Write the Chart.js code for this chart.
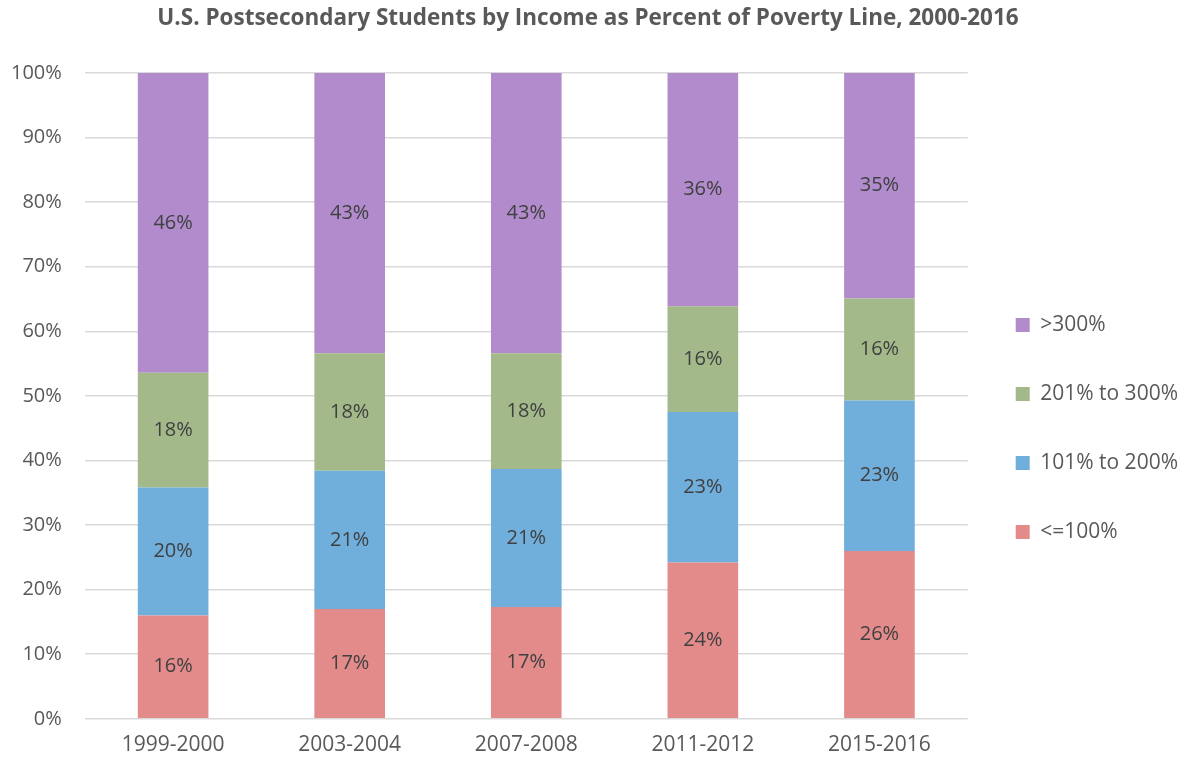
<!DOCTYPE html>
<html>
<head>
<meta charset="utf-8">
<script src="https://cdn.jsdelivr.net/npm/chart.js@4/dist/chart.umd.min.js"></script>
<style>
  html, body { margin: 0; padding: 0; background: #fff; }
  #wrap { width: 1184px; height: 764px; }
</style>
</head>
<body>
<div id="wrap"><canvas id="myChart" width="1184" height="764"></canvas></div>
<script>
const years = ['1999-2000', '2003-2004', '2007-2008', '2011-2012', '2015-2016'];
const pov100 = [16.0, 17.0, 17.3, 24.2, 26.0];
const pov200 = [19.8, 21.4, 21.4, 23.3, 23.3];
const pov300 = [17.8, 18.2, 17.9, 16.4, 15.8];
const povOver = [46.4, 43.4, 43.4, 36.1, 34.9];

const FONT = "'Open Sans', 'Liberation Sans', sans-serif";

// labels inside the bars
const barLabels = {
  id: 'barLabels',
  afterDatasetsDraw(chart) {
    const ctx = chart.ctx;
    ctx.save();
    ctx.font = '20px ' + FONT;
    ctx.fillStyle = '#404040';
    ctx.textAlign = 'center';
    ctx.textBaseline = 'middle';
    chart.data.datasets.forEach((ds, i) => {
      chart.getDatasetMeta(i).data.forEach((bar, j) => {
        const y = (bar.y + bar.base) / 2;
        ctx.fillText(Math.round(ds.data[j]) + '%', bar.x, y);
      });
    });
    ctx.restore();
  }
};

const config = {
  type: 'bar',
  data: {
    labels: years,
    datasets: [
      { label: '<=100%', data: pov100, backgroundColor: '#E38B8B' },
      { label: '101% to 200%', data: pov200, backgroundColor: '#70AEDB' },
      { label: '201% to 300%', data: pov300, backgroundColor: '#A3B98A' },
      { label: '>300%', data: povOver, backgroundColor: '#B18BCB' }
    ]
  },
  options: {
    responsive: false,
    animation: false,
    layout: { padding: { left: -12, right: -4, top: 0, bottom: 0 } },
    datasets: { bar: { barPercentage: 0.4, categoryPercentage: 1.0, borderWidth: 0 } },
    scales: {
      x: {
        stacked: true,
        grid: { display: false },
        border: { display: false },
        ticks: { color: '#595959', font: { size: 21, family: FONT }, padding: 6 }
      },
      y: {
        stacked: true,
        min: 0, max: 100,
        grid: { color: '#D9D9D9', lineWidth: 1.5, drawTicks: false },
        border: { display: false },
        ticks: {
          stepSize: 10,
          color: '#595959',
          font: { size: 20, family: FONT },
          padding: 23,
          callback: v => v + '%'
        }
      }
    },
    plugins: {
      title: {
        display: true,
        text: 'U.S. Postsecondary Students by Income as Percent of Poverty Line, 2000-2016',
        color: '#595959',
        font: { size: 22.5, weight: 'bold', family: FONT },
        padding: { top: 5, bottom: 41 }
      },
      legend: {
        position: 'right',
        reverse: true,
        title: { display: true, text: ' ', font: { size: 4 }, padding: 44 },
        labels: {
          boxWidth: 14,
          boxHeight: 14,
          padding: 48,
          color: '#595959',
          font: { size: 21, family: FONT }
        }
      },
      tooltip: { enabled: false }
    }
  },
  plugins: [barLabels]
};

const myChart = new Chart(document.getElementById('myChart'), config);
</script>
</body>
</html>
